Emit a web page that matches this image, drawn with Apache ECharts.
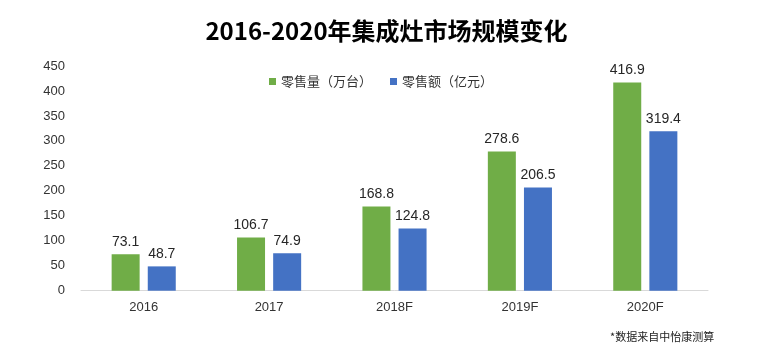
<!DOCTYPE html>
<html><head><meta charset="utf-8">
<script src="https://cdn.jsdelivr.net/npm/echarts@6/dist/echarts.min.js"></script>
<style>html,body{margin:0;padding:0;background:#fff}#c{width:773px;height:356px}</style>
</head><body><div id="c"></div>
<script>
const categories = ['2016', '2017', '2018F', '2019F', '2020F'];
const volume = [73.1, 106.7, 168.8, 278.6, 416.9];
const revenue = [48.7, 74.9, 124.8, 206.5, 319.4];
const seriesNames = ['零售量（万台）', '零售额（亿元）'];
const titleText = '2016-2020年集成灶市场规模变化';
const noteText = '*数据来自中怡康测算';

const chart = echarts.init(document.getElementById('c'));
const lbl = {show: true, position: 'top', distance: 5, color: '#262626', fontSize: 14, fontFamily: 'Liberation Sans, Arial, sans-serif'};
chart.setOption({
  animation: false,
  title: [{
    text: titleText, left: 'center', top: 14,
    textStyle: {fontSize: 24, fontWeight: 'bold', color: '#000', fontFamily: 'Noto Sans CJK SC'}
  }, {
    text: noteText, left: 605, top: 326,
    textStyle: {fontSize: 11, fontWeight: 'normal', color: '#222', fontFamily: 'Noto Sans CJK SC'}
  }],
  legend: {
    top: 70, left: 264, itemWidth: 7, itemHeight: 7, itemGap: 18, icon: 'rect',
    textStyle: {fontSize: 13, color: '#333', fontFamily: 'Noto Sans CJK SC'},
    data: seriesNames
  },
  grid: {left: 81, right: 65, top: 66, bottom: 65.3},
  xAxis: {
    type: 'category', data: categories,
    axisLine: {lineStyle: {color: '#d9d9d9', width: 1}},
    axisTick: {show: false},
    axisLabel: {color: '#333', fontSize: 13, margin: 10, fontFamily: 'Liberation Sans, Arial, sans-serif'}
  },
  yAxis: {
    type: 'value', min: 0, max: 450, interval: 50,
    axisLine: {show: false}, axisTick: {show: false}, splitLine: {show: false},
    axisLabel: {color: '#333', fontSize: 13, margin: 16, fontFamily: 'Liberation Sans, Arial, sans-serif'}
  },
  series: [{
    name: seriesNames[0], type: 'bar', data: volume, barWidth: 28, barGap: '29%',
    itemStyle: {color: '#70ad47'}, label: lbl
  }, {
    name: seriesNames[1], type: 'bar', data: revenue, barWidth: 28,
    itemStyle: {color: '#4472c4'}, label: lbl
  }]
});
</script></body></html>
